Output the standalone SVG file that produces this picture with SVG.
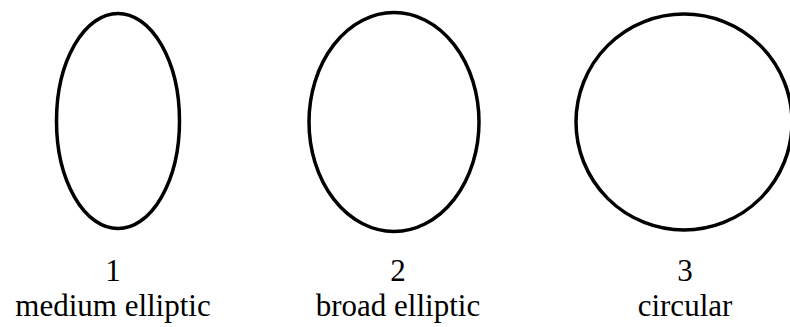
<svg xmlns="http://www.w3.org/2000/svg" width="790" height="327" viewBox="0 0 790 327">
<style>
.shape{fill:none;stroke:#000;stroke-width:3.5}
.lbl{font-family:'Liberation Serif','Times New Roman',Times,serif;font-size:31px;fill:#000;text-anchor:middle}
</style>
<rect width="790" height="327" fill="#fff"/>
<g id="node1">
<ellipse class="shape" cx="118" cy="121" rx="61.5" ry="107.5"/>
<text class="lbl" x="113" y="281" font-family="Liberation Serif, serif">1</text>
<text class="lbl" x="113" y="316" font-family="Liberation Serif, serif">medium elliptic</text>
</g>
<g id="node2">
<ellipse class="shape" cx="394" cy="122" rx="85" ry="109.5"/>
<text class="lbl" x="398" y="281" font-family="Liberation Serif, serif">2</text>
<text class="lbl" x="398" y="316" font-family="Liberation Serif, serif">broad elliptic</text>
</g>
<g id="node3">
<circle class="shape" cx="684" cy="122" r="108"/>
<text class="lbl" x="685" y="281" font-family="Liberation Serif, serif">3</text>
<text class="lbl" x="685" y="316" font-family="Liberation Serif, serif">circular</text>
</g>
<g id="connectors"/>
</svg>
